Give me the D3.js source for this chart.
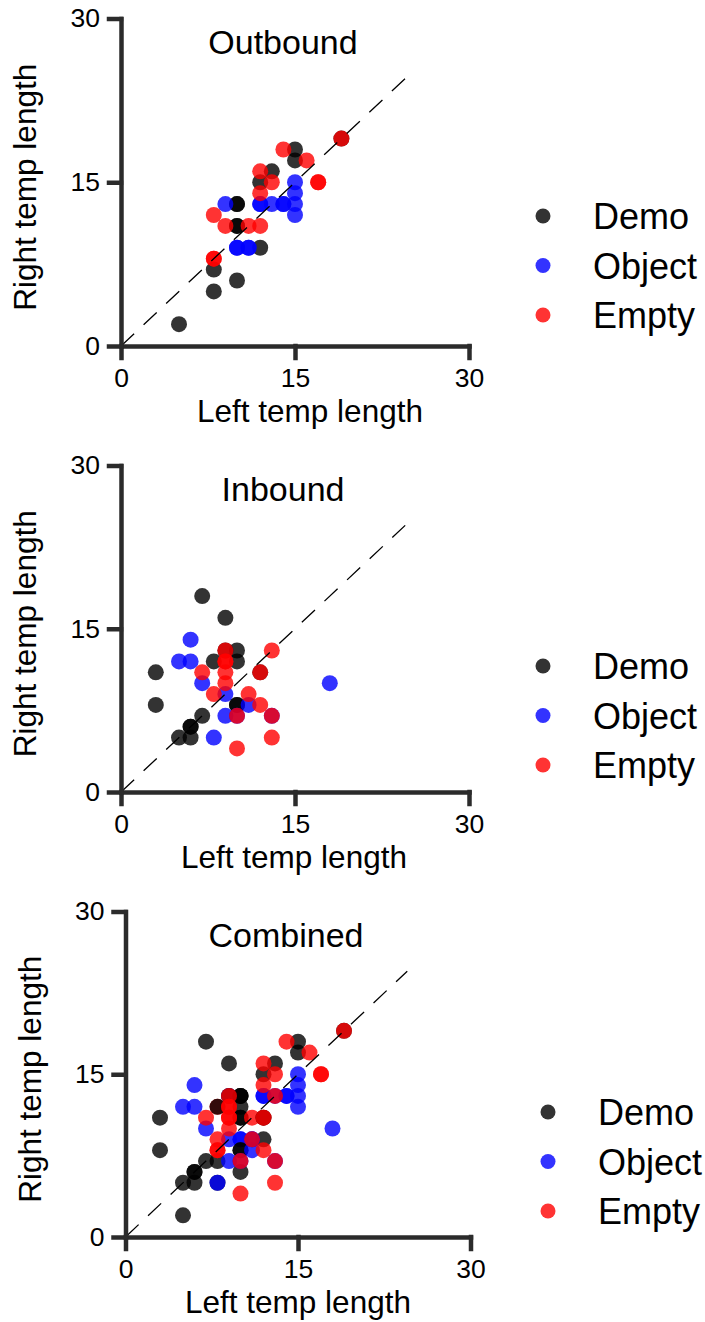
<!DOCTYPE html>
<html>
<head>
<meta charset="utf-8">
<script src="https://cdnjs.cloudflare.com/ajax/libs/d3/7.8.5/d3.min.js"></script>
<style>
    body { margin: 0; background: #fff; }
    text { font-family: "Liberation Sans", Arial, Helvetica, sans-serif; fill: #000; }
</style>
</head>
<body>
<div id="chart"></div>
<script>

// groups shown in the legend, in drawing order
var groups = ["Demo", "Object", "Empty"];

// tick labels on both axes
var tickValues = [0, 15, 30];

// outbound points [left, right]
var outboundDemo = [[5, 2], [8, 5], [10, 6], [8, 7], [12, 9], [10, 11], [10, 11], [10, 13], [10, 13],
                    [12, 15], [13, 16], [15, 18], [15, 17], [19, 19]];
var outboundObject = [[10, 9], [10, 9], [11, 9], [11, 9], [9, 13], [12, 13], [12, 13], [13, 13], [14, 13],
                      [14, 13], [15, 12], [15, 13], [15, 14], [15, 15]];
var outboundEmpty = [[8, 8], [8, 8], [8, 12], [9, 11], [11, 11], [12, 11], [12, 14], [12, 16], [13, 15],
                     [17, 15], [17, 15], [14, 18], [16, 17], [19, 19]];

// inbound points [left, right]
var inboundDemo = [[7, 18], [9, 16], [8, 12], [10, 13], [10, 12], [3, 11], [3, 8], [10, 8], [10, 8],
                   [7, 7], [6, 6], [6, 6], [5, 5], [6, 5], [9, 13], [12, 11]];
var inboundObject = [[6, 14], [5, 12], [6, 12], [7, 10], [18, 10], [9, 9], [11, 8], [9, 7], [10, 7],
                     [13, 7], [8, 5]];
var inboundEmpty = [[9, 13], [9, 12], [9, 12], [7, 11], [9, 11], [12, 11], [13, 13], [9, 10], [8, 9],
                    [11, 9], [12, 8], [10, 7], [13, 7], [13, 5], [10, 4]];

// end of the dashed unity line
var unityEnd = 24.5;

var colors = { "Demo": "#000000", "Object": "#0000ff", "Empty": "#ff0000" };

var svg = d3.select("#chart")
            .append("svg")
            .attr("width", 705)
            .attr("height", 1322);

// one panel per condition, combined is outbound then inbound
var panels = [
    { title: "Outbound", left: 121, right: 469, top: 18.5, bottom: 346, xLabel: 310, legX: 543, legY: 216,
      series: [[outboundDemo, outboundObject, outboundEmpty]] },
    { title: "Inbound", left: 121, right: 469, top: 465.5, bottom: 792, xLabel: 294, legX: 543, legY: 666,
      series: [[inboundDemo, inboundObject, inboundEmpty]] },
    { title: "Combined", left: 125.5, right: 470.5, top: 911.5, bottom: 1237, xLabel: 298, legX: 548, legY: 1112,
      series: [[outboundDemo, outboundObject, outboundEmpty], [inboundDemo, inboundObject, inboundEmpty]] }
];

panels.forEach(function(p) { drawPanel(p); });

function drawPanel(p) {

    var g = svg.append("g");

    var x = d3.scaleLinear()
                .domain([0, 30])
                .range([p.left, p.right]);

    var y = d3.scaleLinear()
                .domain([0, 30])
                .range([p.bottom, p.top]);

    // points, each group in order
    p.series.forEach(function(set) {
        set.forEach(function(points, i) {
            g.append("g")
                .selectAll("circle")
                .data(points)
                .enter()
                .append("circle")
                .attr("cx", function(d) { return x(d[0]); })
                .attr("cy", function(d) { return y(d[1]); })
                .attr("r", 8)
                .attr("fill", colors[groups[i]])
                .attr("fill-opacity", 0.8);
        });
    });

    // dashed unity line on top of the points
    var line = d3.line()
                    .x(function(d) { return x(d); })
                    .y(function(d) { return y(d); });

    g.append("path")
        .attr("d", line([0, unityEnd]))
        .attr("fill", "none")
        .attr("stroke", "#000")
        .attr("stroke-width", 1.3)
        .attr("stroke-dasharray", "18,13");

    // x axis
    var xAxis = g.append("g")
        .attr("transform", "translate(0," + p.bottom + ")")
        .call(d3.axisBottom(x).tickValues(tickValues).tickSize(12).tickSizeOuter(0).tickPadding(10));

    // y axis
    var yAxis = g.append("g")
        .attr("transform", "translate(" + p.left + ",0)")
        .call(d3.axisLeft(y).tickValues(tickValues).tickSize(12).tickSizeOuter(0).tickPadding(9));

    [xAxis, yAxis].forEach(function(a) {
        a.selectAll("path, line")
            .attr("stroke", "#2b2b2b")
            .attr("stroke-width", 4.5)
            .attr("stroke-linecap", "square");
        a.selectAll("text")
            .attr("fill", "#000")
            .style("font-size", "26.5px")
            .style("font-family", "'Liberation Sans', Arial, sans-serif");
    });

    // title
    g.append("text")
        .attr("x", (p.left + p.right) / 2 - 12)
        .attr("y", p.top + 35)
        .attr("text-anchor", "middle")
        .style("font-size", "34px")
        .text(p.title);

    // axis labels
    g.append("text")
        .attr("x", p.xLabel)
        .attr("y", p.bottom + 76)
        .attr("text-anchor", "middle")
        .style("font-size", "31.5px")
        .text("Left temp length");

    g.append("text")
        .attr("transform", "translate(" + (p.left - 85) + "," + ((p.top + p.bottom) / 2 + 5) + ") rotate(-90)")
        .attr("text-anchor", "middle")
        .style("font-size", "31.5px")
        .text("Right temp length");

    // legend
    var leg = g.append("g")
        .selectAll("g")
        .data(groups)
        .enter()
        .append("g")
        .attr("transform", function(d, i) { return "translate(" + p.legX + "," + (p.legY + i * 49.5) + ")"; });

    leg.append("circle")
        .attr("r", 7.5)
        .attr("fill", function(d) { return colors[d]; })
        .attr("fill-opacity", 0.8);

    leg.append("text")
        .attr("x", 50)
        .attr("y", 13)
        .style("font-size", "36px")
        .text(function(d) { return d; });
}

</script>
</body>
</html>
